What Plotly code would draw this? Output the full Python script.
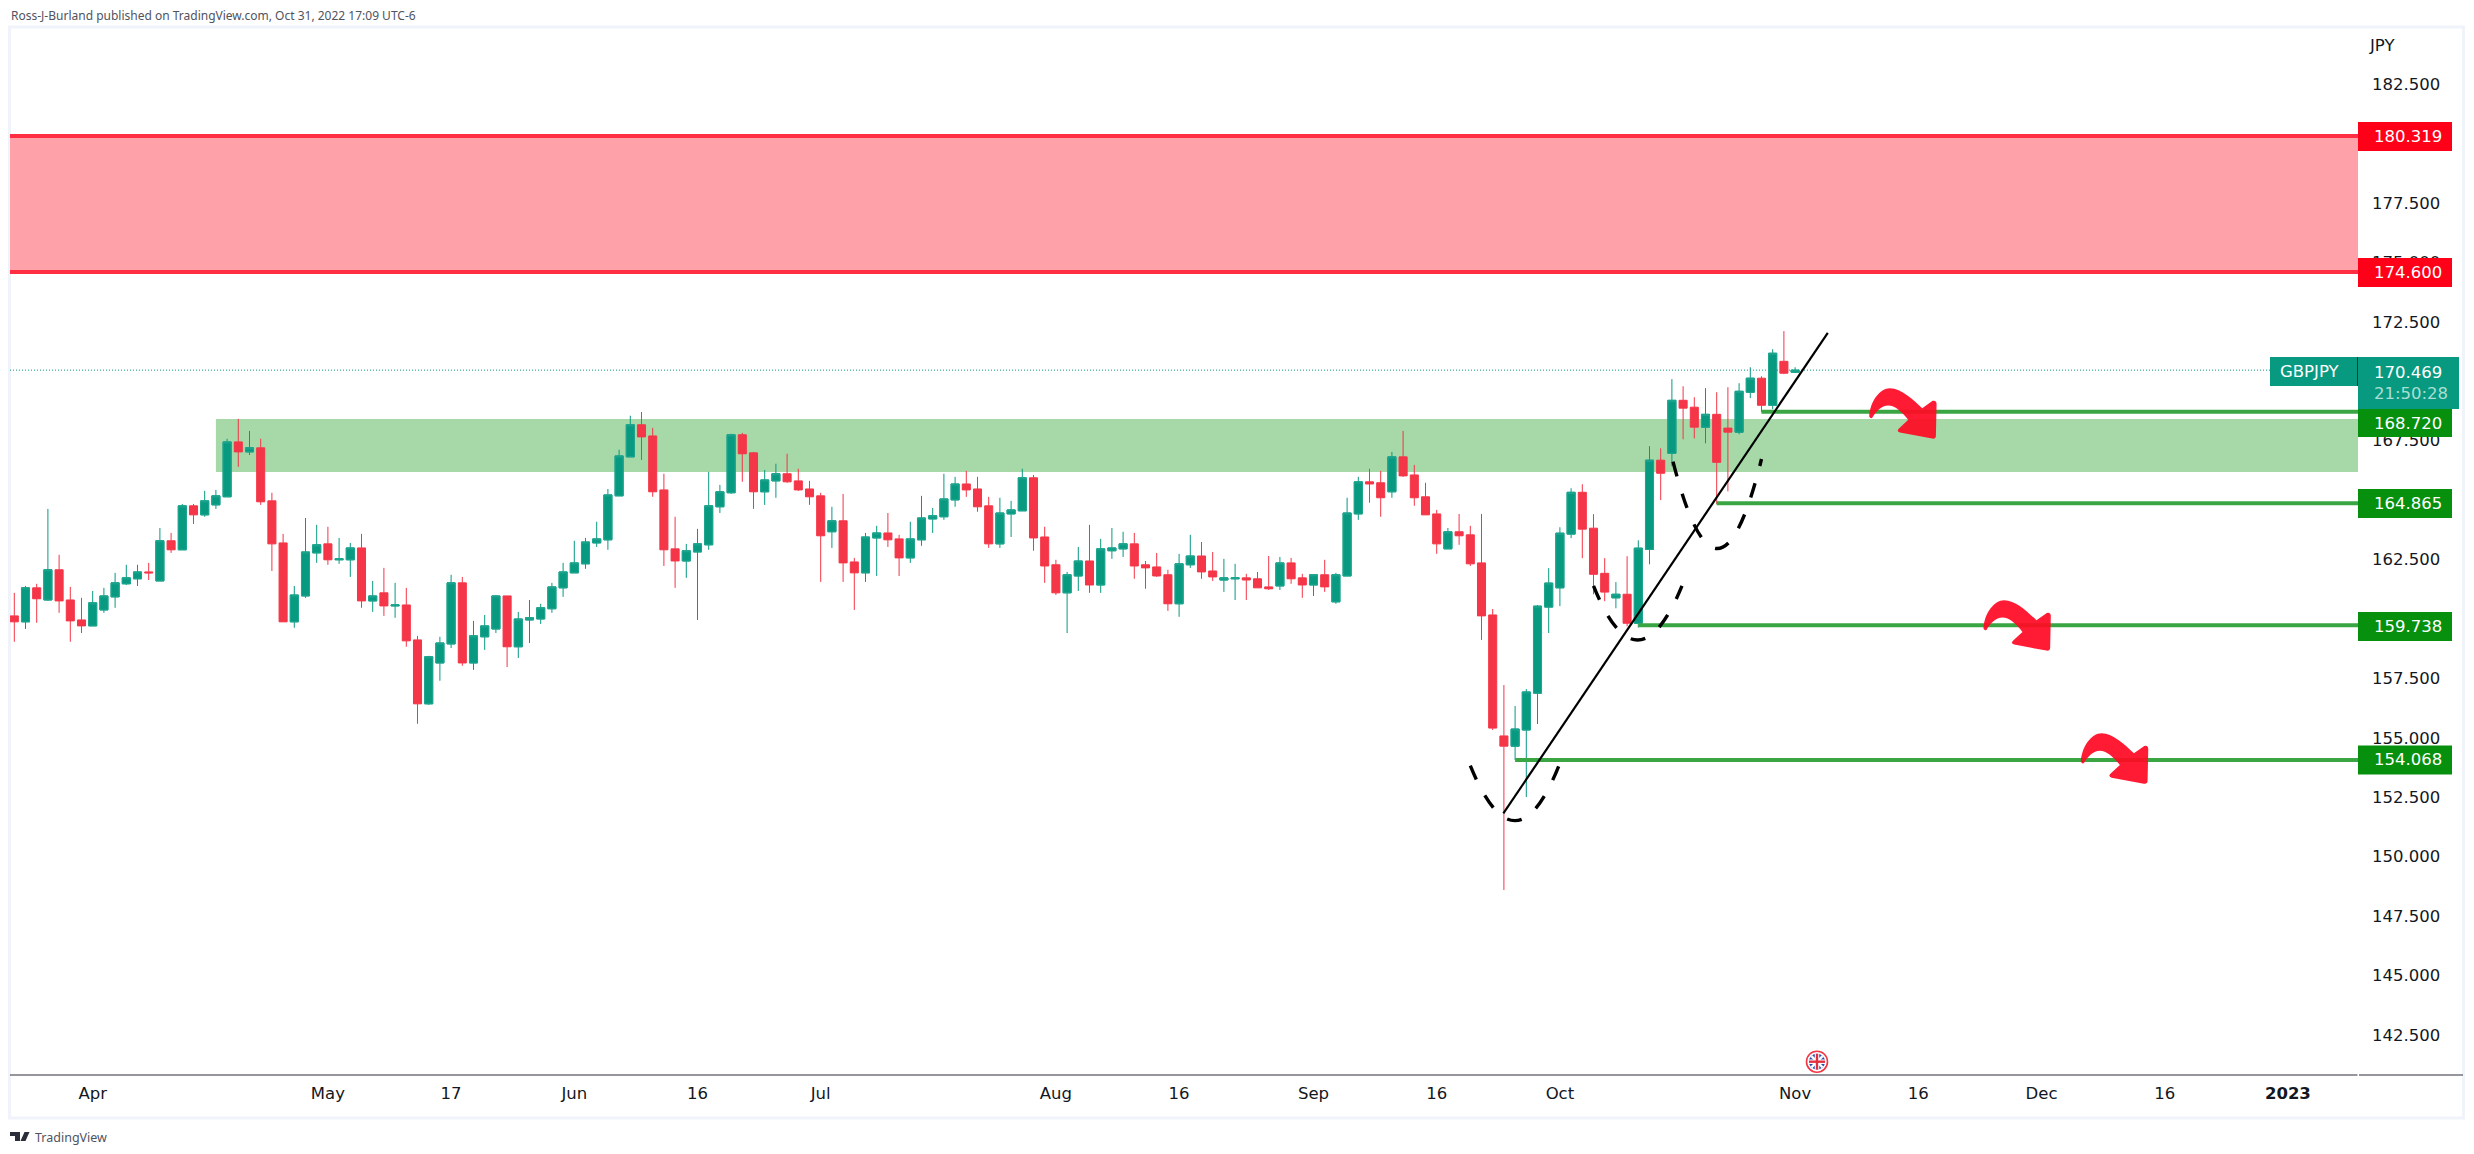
import numpy as np
import pandas as pd
import plotly.graph_objects as go

# ---------- data ----------
SYMBOL = "GBPJPY"
CURRENCY = "JPY"
dates = pd.bdate_range("2022-03-23", periods=160)

opens = [160.13,159.88,161.31,160.80,162.07,160.80,159.96,159.71,160.38,160.93,161.48,161.69,161.98,161.60,163.29,162.91,164.76,164.38,164.80,165.14,
167.45,167.03,167.20,164.97,163.20,159.88,160.97,162.78,163.16,162.49,162.49,162.99,160.76,161.10,160.55,160.59,159.12,156.43,158.15,158.95,
161.52,158.15,159.25,159.58,160.97,158.83,159.96,160.00,160.43,161.31,161.94,162.32,163.20,163.33,165.18,166.82,168.17,167.70,165.43,162.95,
162.44,162.82,163.12,164.72,165.31,167.75,166.99,165.35,165.81,166.11,165.81,165.47,165.18,163.67,164.13,162.40,161.94,163.41,163.62,163.37,
162.57,163.33,164.21,164.30,165.01,165.68,165.47,164.76,163.16,164.42,164.55,165.94,163.45,162.28,161.10,161.81,162.44,161.43,162.87,162.95,
163.16,162.28,162.19,161.86,160.64,162.28,162.65,162.02,161.64,161.69,161.73,161.69,161.35,161.39,162.36,161.73,161.43,161.86,160.72,161.81,
164.42,165.77,165.73,165.35,166.82,166.06,165.14,164.42,162.95,163.67,163.54,162.36,160.17,155.08,154.65,155.33,156.88,160.50,161.31,163.57,
165.33,163.82,161.92,160.89,161.04,159.82,162.93,166.68,166.97,169.20,168.91,168.07,168.61,168.03,167.86,169.54,170.13,168.99,170.84,170.38]
highs = [161.10,161.39,161.48,164.63,162.70,161.35,160.89,161.18,161.31,161.94,162.28,162.28,162.36,163.83,163.62,164.84,164.84,165.39,165.43,167.58,
168.42,167.91,167.58,165.31,163.58,161.39,164.25,163.96,163.88,163.41,163.20,163.58,161.60,162.15,161.52,161.31,159.29,158.45,159.25,161.86,
161.77,159.92,160.17,161.01,160.97,160.30,160.80,160.64,161.52,162.36,163.29,163.41,164.09,165.47,167.12,168.55,168.71,168.04,166.11,164.30,
163.16,163.79,166.19,165.64,167.79,167.83,167.03,166.27,166.53,166.95,166.32,165.81,165.31,164.72,165.26,162.57,163.62,163.92,164.46,163.54,
164.09,165.18,164.67,166.11,165.98,166.23,165.98,165.14,165.10,164.97,166.32,166.06,163.88,162.49,161.98,163.03,163.96,163.37,163.83,163.67,
163.62,162.44,162.78,162.07,162.74,163.54,163.24,162.82,162.53,162.32,161.90,161.98,162.65,162.61,162.57,161.90,161.86,162.49,161.94,165.10,
165.98,166.32,166.23,167.03,167.91,166.48,165.73,164.59,163.83,164.42,163.92,164.42,160.42,157.22,156.34,157.05,160.59,162.14,163.86,165.50,
165.67,164.41,162.56,161.55,162.64,163.31,167.27,167.18,170.09,169.79,169.33,169.71,169.54,169.75,169.92,170.59,170.21,171.35,172.11,170.59]
lows = [159.04,159.58,159.84,160.76,160.26,159.04,159.41,159.71,160.26,160.47,161.43,161.39,161.64,161.60,162.78,162.91,164.00,164.30,164.63,165.14,
166.40,166.90,164.80,162.02,159.88,159.63,160.89,162.36,162.28,162.32,161.77,160.47,160.30,160.13,160.05,158.83,155.59,156.39,157.40,158.78,
158.03,157.86,158.70,159.41,157.98,158.36,158.99,159.79,160.26,160.93,161.94,162.11,163.03,162.91,165.18,166.82,166.69,165.14,162.23,161.31,
161.73,159.96,162.91,164.46,165.26,165.77,164.63,164.80,165.10,165.73,165.39,164.80,161.56,162.99,161.56,160.38,161.56,161.81,163.03,161.81,
162.36,163.08,163.62,164.17,164.72,165.14,164.51,162.99,162.99,163.45,164.55,162.87,161.52,161.01,159.41,161.18,161.10,161.10,162.53,162.61,
161.69,161.27,161.77,160.34,160.09,162.15,161.69,161.60,161.14,160.80,160.80,161.31,161.22,161.22,161.48,160.89,160.97,161.14,160.64,161.81,
164.17,164.89,164.30,165.10,165.98,164.76,164.38,162.74,162.95,163.12,162.23,159.12,155.33,148.60,154.07,152.51,155.58,159.41,160.54,163.40,
162.56,161.04,160.75,160.45,159.69,159.64,162.30,165.00,166.43,167.56,167.60,167.39,164.83,165.37,167.77,169.29,168.70,168.83,170.30,170.36]
closes = [159.88,161.31,160.85,162.07,160.76,159.92,159.71,160.68,160.97,161.52,161.73,161.98,161.94,163.29,162.91,164.76,164.38,164.97,165.18,167.45,
167.03,167.20,164.93,163.16,159.88,161.01,162.82,163.12,162.49,162.53,162.99,160.76,160.97,160.55,160.59,159.08,156.43,158.41,158.99,161.52,
158.15,159.29,159.71,160.97,158.83,160.00,160.05,160.47,161.35,161.98,162.36,163.24,163.37,165.22,166.86,168.17,167.66,165.35,162.91,162.44,
162.87,163.16,164.76,165.35,167.75,166.95,165.35,165.85,166.11,165.77,165.43,165.14,163.50,164.13,162.36,161.94,163.45,163.62,163.33,162.57,
163.37,164.25,164.34,165.05,165.68,165.43,164.72,163.16,164.46,164.59,165.94,163.41,162.23,161.10,161.86,162.44,161.43,162.95,162.99,163.16,
162.23,162.15,161.81,160.64,162.32,162.65,161.98,161.77,161.73,161.73,161.64,161.31,161.27,162.36,161.69,161.43,161.86,161.35,161.86,164.46,
165.77,165.68,165.10,166.82,166.02,165.10,164.38,163.16,163.67,163.50,162.32,160.13,155.41,154.65,155.37,156.93,160.54,161.51,163.61,165.33,
163.78,161.88,161.13,161.04,159.82,162.98,166.68,166.13,169.20,168.87,168.07,168.61,166.59,167.86,169.58,170.13,168.99,171.18,170.34,170.469]

y_ticks = [142.5,145,147.5,150,152.5,155,157.5,162.5,167.5,172.5,175,177.5,182.5]
x_tick_dates = ["2022-04-01","2022-05-02","2022-05-17","2022-06-01","2022-06-16","2022-07-01","2022-08-01","2022-08-16",
                "2022-09-01","2022-09-16","2022-10-03","2022-11-01","2022-11-16","2022-12-01","2022-12-16","2023-01-02"]
x_tick_text = ["Apr","May","17","Jun","16","Jul","Aug","16","Sep","16","Oct","Nov","16","Dec","16","<b>2023</b>"]

red_zone = (174.600, 180.319)
green_zone = (166.18, 168.41)
green_zone_start = 18.0
level_values = [168.720, 164.865, 159.738, 154.068]
level_starts = [156, 152, 145, 134]
last_price = 170.469
trend_x = [132.95, 161.92]
trend_y = [151.82, 172.04]
# dashed curves: start, control, end as (bar index, price)
curves = [((130.0,153.83),(134.0,149.21),(137.9,153.82)),
          ((141.0,161.39),(144.9,156.84),(148.9,161.39)),
          ((148.1,166.62),(152.1,159.25),(156.0,166.73))]
arrow_anchors = [(163.0,170.48),(173.2,161.56),(181.9,155.96)]

# ---------- styling / layout helpers ----------
W, H = 2474, 1154
L, R, T, B = 10, 2358, 28, 1075
BAR_W = 11.2
X0 = (L-14.3)/BAR_W
X1 = (R-14.3)/BAR_W
PX_PER_UNIT = 23.77
Y1 = 180.319+(136-T)/PX_PER_UNIT
Y0 = 180.319-(B-136)/PX_PER_UNIT
FONT = "DejaVu Sans"
SMALL_FONT = "Noto Sans"
UP, DOWN = "#089981", "#f43648"

fx = lambda px: (px-L)/(R-L)
fy = lambda py: (B-py)/(B-T)

xs = np.arange(len(opens))
all_days = pd.bdate_range("2022-03-23", "2023-03-31")
x_ticks = [int(all_days.get_indexer([pd.Timestamp(d)])[0]) for d in x_tick_dates]

fig = go.Figure()
fig.add_trace(go.Candlestick(x=xs, open=opens, high=highs, low=lows, close=closes, whiskerwidth=0,
    increasing=dict(line=dict(color=UP, width=1), fillcolor=UP),
    decreasing=dict(line=dict(color=DOWN, width=1), fillcolor=DOWN), showlegend=False, hoverinfo="skip"))
up = [i for i in xs if closes[i] >= opens[i]]
fig.add_trace(go.Candlestick(x=[int(i) for i in up], open=[opens[i] for i in up], close=[closes[i] for i in up],
    high=[closes[i] for i in up], low=[opens[i] for i in up], whiskerwidth=0,
    increasing=dict(line=dict(color="#20a690", width=1), fillcolor=UP), showlegend=False, hoverinfo="skip"))

shapes = []
# frame
shapes.append(dict(type="rect", xref="paper", yref="paper", x0=fx(L-0.5), x1=fx(2463.5), y0=fy(1118), y1=fy(T-1),
                   line=dict(color="#f0f3fa", width=3), layer="below"))
# zones
shapes.append(dict(type="rect", xref="x", yref="y", x0=X0, x1=X1, y0=red_zone[0], y1=red_zone[1],
                   fillcolor="#ffa1a9", line=dict(width=0), layer="below"))
for v in red_zone:
    shapes.append(dict(type="line", xref="x", yref="y", x0=X0, x1=X1, y0=v, y1=v, line=dict(color="#ff2e43", width=4), layer="below"))
shapes.append(dict(type="rect", xref="x", yref="y", x0=green_zone_start, x1=X1, y0=green_zone[0], y1=green_zone[1],
                   fillcolor="#a6d8a8", line=dict(width=0), layer="below"))
shapes.append(dict(type="line", xref="x", yref="y", x0=X0, x1=X1, y0=last_price, y1=last_price,
                   line=dict(color=UP, width=1, dash="1px,2px"), layer="below"))
# levels
for v, s in zip(level_values, level_starts):
    shapes.append(dict(type="line", xref="x", yref="y", x0=s, x1=X1, y0=v, y1=v, line=dict(color="#3aa643", width=4), layer="above"))
# trend line
shapes.append(dict(type="line", xref="x", yref="y", x0=trend_x[0], x1=trend_x[1], y0=trend_y[0], y1=trend_y[1],
                   line=dict(color="#000000", width=2.2), layer="above"))
# dashed curves
for p0, c, p2 in curves:
    shapes.append(dict(type="path", xref="x", yref="y", path=f"M{p0[0]},{p0[1]} Q{c[0]},{c[1]} {p2[0]},{p2[1]}",
                       line=dict(color="#000000", width=3.4, dash="15px,18px"), layer="above"))
# arrows
OUT = [("M",88,140),("C",90,95,120,55,150,55),("C",185,55,220,90,247,115),("L",278,93),("Q",290,90,290,103),
       ("L",288,198),("Q",287,208,277,206),("L",180,188),("Q",168,183,178,175),("L",205,150),
       ("C",185,125,165,107,145,107),("C",125,107,108,125,97,144),("Q",92,148,88,140)]
def arrow_path(ax, ay):
    parts = []
    for seg in OUT:
        vals = seg[1:]
        pts = [f"{ax+vals[i]/3/BAR_W:.3f},{ay-vals[i+1]/3/PX_PER_UNIT:.3f}" for i in range(0, len(vals), 2)]
        parts.append(seg[0]+" ".join(pts))
    return " ".join(parts)+" Z"
for ax, ay in arrow_anchors:
    shapes.append(dict(type="path", xref="x", yref="y", path=arrow_path(ax, ay),
                       fillcolor="rgba(255,10,35,0.93)", line=dict(width=0), layer="above"))

annots = []
def tag(x0, x1, y0, y1, color, text, tx=2372.5, size=16.5):
    shapes.append(dict(type="rect", xref="paper", yref="paper", x0=fx(x0), x1=fx(x1), y0=fy(y1), y1=fy(y0),
                       fillcolor=color, line=dict(width=0), layer="above"))
    annots.append(dict(xref="paper", yref="paper", x=fx(tx), y=fy((y0+y1)/2), xanchor="left", yanchor="middle",
                       text=text, showarrow=False, font=dict(family=FONT, size=size, color="#ffffff"),
                       align="left", borderpad=0))
RED_TAG, GREEN_TAG = "#ff0019", "#078f0e"
tag(R, 2452, 122, 151, RED_TAG, "180.319")
tag(R, 2452, 258, 287, RED_TAG, "174.600")
tag(R, 2452, 489, 518, GREEN_TAG, "164.865")
tag(R, 2452, 612, 641, GREEN_TAG, "159.738")
tag(R, 2452, 745.5, 774.5, GREEN_TAG, "154.068")
tag(R, 2452, 409, 437, GREEN_TAG, "168.720")
tag(2270, R-1, 357, 386, UP, SYMBOL, tx=2278.5)
tag(R, 2459, 357, 409, UP, "170.469<br><span style='color:#a9dfd3'>21:50:28</span>")
shapes.append(dict(type="line", xref="paper", yref="paper", x0=fx(R-0.5), x1=fx(R-0.5), y0=fy(357), y1=fy(386),
                   line=dict(color="#0b3d34", width=1), layer="above"))

# small gap in the time-axis line at the price scale
shapes.append(dict(type="line", xref="paper", yref="paper", x0=fx(L), x1=fx(R-0.5), y0=0, y1=0, line=dict(color="#2a2e39", width=1), layer="above"))
shapes.append(dict(type="line", xref="paper", yref="paper", x0=fx(R+1), x1=fx(2463), y0=0, y1=0, line=dict(color="#2a2e39", width=1), layer="above"))

# UK flag event marker
cx, cy = 1817, 1061.7
def circ(r, **kw):
    return dict(type="circle", xref="paper", yref="paper", x0=fx(cx-r), x1=fx(cx+r), y0=fy(cy+r), y1=fy(cy-r), layer="above", **kw)
shapes.append(circ(10.5, fillcolor="#ffffff", line=dict(color="#f23645", width=1.6)))
shapes.append(circ(8, fillcolor="#2b4fa8", line=dict(width=0)))
for (dx0, dy0, dx1, dy1, c, w) in [(-5.6,-5.6,5.6,5.6,"#ffffff",2.4),(-5.6,5.6,5.6,-5.6,"#ffffff",2.4),
                                    (-8,0,8,0,"#ffffff",4.5),(0,-8,0,8,"#ffffff",4.5),(-8,0,8,0,"#e0303f",2.4),(0,-8,0,8,"#e0303f",2.4)]:
    shapes.append(dict(type="line", xref="paper", yref="paper", x0=fx(cx+dx0), x1=fx(cx+dx1), y0=fy(cy+dy0), y1=fy(cy+dy1),
                       line=dict(color=c, width=w), layer="above"))

# TradingView logo
def P(*pts):
    return "M"+" L".join(f"{fx(x):.5f},{fy(y):.5f}" for x, y in pts)+" Z"
for path in [P((10,1132),(20,1132),(20,1141),(15,1141),(15,1136),(10,1136)),
             P((24.5,1132),(29.5,1132),(25.5,1141),(20.5,1141))]:
    shapes.append(dict(type="path", xref="paper", yref="paper", path=path, fillcolor="#2a2e39", line=dict(width=0), layer="above"))

annots.append(dict(xref="paper", yref="paper", x=fx(10), y=fy(15), xanchor="left", yanchor="middle", showarrow=False,
                   text="Ross-J-Burland published on TradingView.com, Oct 31, 2022 17:09 UTC-6",
                   font=dict(family=SMALL_FONT, size=12, color="#50535e"), borderpad=0))
annots.append(dict(xref="paper", yref="paper", x=fx(33.5), y=fy(1137), xanchor="left", yanchor="middle", showarrow=False,
                   text="TradingView", font=dict(family=SMALL_FONT, size=12.5, color="#50535e"), borderpad=0))
annots.append(dict(xref="paper", yref="paper", x=fx(2368), y=fy(45), xanchor="left", yanchor="middle", showarrow=False,
                   text=CURRENCY, font=dict(family=FONT, size=16.5, color="#131722"), borderpad=0))

fig.update_layout(
    width=W, height=H, autosize=False,
    margin=dict(l=L, r=W-R, t=T, b=H-B, pad=0),
    paper_bgcolor="#ffffff", plot_bgcolor="#ffffff",
    showlegend=False, hovermode=False, dragmode=False,
    boxmode="overlay", boxgap=0.28, boxgroupgap=0,
    shapes=shapes, annotations=annots,
    font=dict(family=FONT, size=16.5, color="#131722"),
    xaxis=dict(range=[X0, X1], tickmode="array", tickvals=x_ticks, ticktext=x_tick_text, showgrid=False, zeroline=False,
               rangeslider=dict(visible=False), ticks="", showline=False, ticklabelstandoff=6,
               tickfont=dict(family=FONT, size=16.5, color="#131722")),
    yaxis=dict(range=[Y0, Y1], side="right", tickmode="array", tickvals=y_ticks, ticktext=[f"{v:.3f}" for v in y_ticks],
               showgrid=False, zeroline=False, ticks="", showline=False, ticklabelstandoff=13,
               tickfont=dict(family=FONT, size=16.5, color="#131722")),
)
fig.write_html("out.html", config=dict(displayModeBar=False, staticPlot=True),
               post_script="document.body.style.margin='0';document.body.style.overflow='hidden';")
